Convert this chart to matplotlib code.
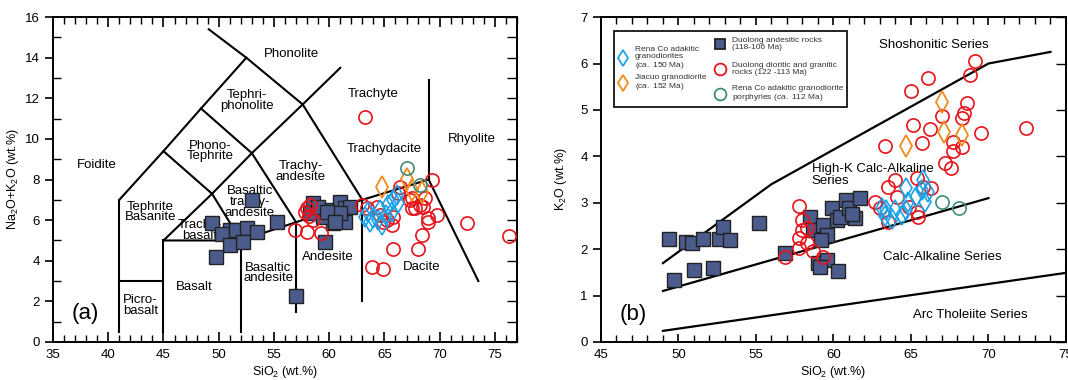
import matplotlib
matplotlib.use("Agg")
import matplotlib.pyplot as plt
from matplotlib.patches import Rectangle
from matplotlib.ticker import MultipleLocator

plt.rcParams["font.family"] = ["Liberation Sans", "DejaVu Sans"]
plt.rcParams["mathtext.fontset"] = "custom"
plt.rcParams["mathtext.rm"] = "Liberation Sans"
plt.rcParams["mathtext.it"] = "Liberation Sans:italic"

# ============================================================
# DATOS  (a) TAS: SiO2 vs Na2O+K2O
# ============================================================
sq_a_x = [53.0, 49.4, 51.0, 50.3, 51.6, 52.6, 53.5, 51.0, 52.2, 49.75, 55.3, 57.0,
          58.5, 58.3, 60.1, 61.0, 61.4, 61.9, 60.3, 61.4, 59.6, 59.4, 59.0, 61.0,
          59.8, 60.5]
sq_a_y = [7.0, 5.86, 5.5, 5.3, 5.5, 5.6, 5.4, 4.8, 4.9, 4.2, 5.9, 2.27,
          6.85, 6.35, 6.5, 6.9, 6.6, 6.65, 5.86, 5.9, 4.9, 6.16, 6.65, 6.35,
          6.4, 5.9]

red_a_x = [58.0, 58.3, 57.8, 58.5, 56.9, 58.0, 59.3, 58.2,
           63.2, 63.0, 64.3, 65.2, 65.7, 65.8, 63.9, 64.9, 68.0, 68.4, 68.9, 69.75,
           69.3, 72.5, 68.7, 68.2, 67.5, 67.5, 66.2, 65.8, 64.9, 64.6, 63.4, 68.5,
           68.9, 66.4, 67.3, 67.8, 76.3]
red_a_y = [6.6, 6.75, 6.4, 6.0, 5.5, 5.4, 5.35, 6.2,
           11.1, 6.75, 6.65, 6.0, 5.76, 4.6, 3.7, 3.6, 4.6, 5.27, 6.1, 6.25,
           8.0, 5.86, 7.1, 6.75, 6.6, 7.1, 7.34, 6.16, 5.9, 6.25, 6.6, 6.65,
           5.9, 7.65, 7.0, 6.6, 5.2]

bd_a_x = [63.2, 63.5, 64.0, 64.6, 64.4, 65.1, 65.3, 65.8, 66.2, 65.7, 64.8, 63.7, 66.1]
bd_a_y = [6.16, 6.4, 6.1, 6.5, 6.0, 6.25, 6.75, 7.0, 6.85, 6.4, 5.76, 5.9, 7.24]

od_a_x = [64.8, 67.0, 67.5, 68.4]
od_a_y = [7.64, 8.05, 7.5, 7.4]

gc_a_x = [67.0, 68.2]
gc_a_y = [8.55, 7.75]

# ============================================================
# DATOS  (b) SiO2 vs K2O
# ============================================================
sq_b_x = [49.4, 49.7, 50.5, 50.9, 51.0, 51.6, 52.2, 52.6, 52.9, 53.3, 55.2, 56.9,
          59.0, 59.6, 60.3, 59.1, 58.5, 58.7, 59.3, 59.6, 59.9, 60.2, 60.4, 60.8,
          61.0, 61.4, 61.7, 59.2, 61.2]
sq_b_y = [2.22, 1.34, 2.15, 2.13, 1.55, 2.22, 1.6, 2.22, 2.48, 2.2, 2.56, 1.92,
          1.7, 1.77, 1.53, 1.62, 2.7, 2.41, 2.52, 2.3, 2.88, 2.63, 2.7, 3.06,
          2.88, 2.67, 3.1, 2.2, 2.75]

red_b_x = [69.1, 68.8, 66.1, 65.0, 68.6, 68.4, 67.0, 68.3, 65.1, 66.2, 69.55, 72.4,
           63.3, 65.7, 67.7, 68.3, 67.7, 67.2, 67.6, 63.95, 63.5, 65.4, 65.75, 66.3,
           64.1, 62.65, 63.0, 63.5, 64.9, 65.4, 65.45,
           57.8, 58.0, 57.95, 58.3, 57.8, 58.3, 57.8, 58.65, 56.85, 59.3]
red_b_y = [6.05, 5.75, 5.69, 5.41, 5.16, 4.94, 4.87, 4.82, 4.67, 4.58, 4.51, 4.6,
           4.23, 4.28, 4.3, 4.2, 4.12, 3.85, 3.75, 3.49, 3.34, 3.53, 3.34, 3.32,
           3.12, 3.02, 2.88, 2.59, 2.91, 2.8, 2.7,
           2.93, 2.63, 2.41, 2.45, 2.24, 2.13, 2.02, 1.96, 1.84, 1.84]

bd_b_x = [63.4, 63.3, 63.95, 63.8, 64.4, 64.7, 64.8, 65.35, 65.7, 65.75, 66.1, 65.9, 64.7, 63.1]
bd_b_y = [2.84, 2.71, 2.84, 2.66, 2.73, 3.32, 3.02, 3.13, 3.27, 3.49, 3.23, 3.02, 2.84, 2.88]

od_b_x = [67.0, 64.65, 67.1, 68.3]
od_b_y = [5.18, 4.23, 4.53, 4.46]

gc_b_x = [67.0, 68.1]
gc_b_y = [3.02, 2.88]

# lineas de series (Peccerillo & Taylor)
sho_x, sho_y = [49, 56, 70, 74], [1.7, 3.4, 6.0, 6.25]
hk_x, hk_y = [49, 70], [1.1, 3.1]
th_x, th_y = [49, 75], [0.24, 1.49]

# ============================================================
# ESTILOS
# ============================================================
C_SQ = "#4a5b8c"
C_RED = "#e5141b"
C_BLUE = "#1aa3e8"
C_ORANGE = "#ef8a1c"
C_GREEN = "#3f8c78"

def draw_points(ax, sx, sy, rx, ry, bx, by, ox, oy, gx, gy):
    ax.plot(sx, sy, ls="none", marker="s", ms=10.5, mfc=C_SQ, mec="#222222", mew=1.0, zorder=4)
    ax.plot(rx, ry, ls="none", marker="o", ms=9.5, mfc="none", mec=C_RED, mew=1.2, zorder=5)
    ax.plot(bx, by, ls="none", marker="d", ms=10.5, mfc="none", mec=C_BLUE, mew=1.2, zorder=6)
    ax.plot(ox, oy, ls="none", marker="d", ms=11, mfc="none", mec=C_ORANGE, mew=1.3, zorder=6)
    ax.plot(gx, gy, ls="none", marker="o", ms=9.5, mfc="none", mec=C_GREEN, mew=1.2, zorder=6)

def style_axes(ax):
    for s in ax.spines.values():
        s.set_linewidth(1.4)
    ax.tick_params(axis="x", which="major", direction="in", length=7, width=1.2,
                   top=True, labelsize=9.5, pad=5)
    ax.tick_params(axis="x", which="minor", direction="in", length=5, width=1.0, top=True)
    ax.tick_params(axis="y", which="major", direction="out", length=6, width=1.2,
                   labelsize=9.5)
    ax.tick_params(axis="y", which="minor", direction="in", length=6, width=1.0)

fig = plt.figure(figsize=(10.68, 3.80), dpi=100)

# ── (a) TAS ──
ax1 = fig.add_axes([0.0496, 0.1, 0.4345, 0.855])
ax1.set_xlim(35, 77)
ax1.set_ylim(0, 16)
ax1.xaxis.set_major_locator(MultipleLocator(5))
ax1.xaxis.set_minor_locator(MultipleLocator(1))
ax1.yaxis.set_major_locator(MultipleLocator(2))
ax1.yaxis.set_minor_locator(MultipleLocator(1))
style_axes(ax1)
ax1r = ax1.secondary_yaxis("right")
ax1r.yaxis.set_major_locator(MultipleLocator(1))
ax1r.tick_params(direction="in", length=7, width=1.0, labelright=False)
ax1r.spines["right"].set_linewidth(1.4)

tas_lines = [
    ([41, 41], [0.5, 7]), ([41, 45, 48.4, 52.5], [7, 9.4, 11.5, 14]),
    ([49.1, 52.5, 57.6, 63], [15.4, 14, 11.7, 7]), ([57.6, 61], [11.7, 13.5]),
    ([45, 49.4, 53, 57.6], [9.4, 7.3, 9.3, 11.7]), ([48.4, 53], [11.5, 9.3]),
    ([53, 57], [9.3, 5.9]), ([45, 49.4], [5, 7.3]), ([49.4, 52], [7.3, 5]),
    ([41, 45], [3, 3]), ([45, 45], [0.5, 5]), ([45, 52, 57, 63, 69], [5, 5, 5.9, 7, 8]),
    ([52, 52], [0.5, 5]), ([57, 57], [1.5, 5.9]), ([63, 63], [2.0, 7]),
    ([69, 69], [8, 12.9]), ([69, 73.5], [8, 3.0]),
]
for lx, ly in tas_lines:
    ax1.plot(lx, ly, color="black", lw=1.5, zorder=2)

tas_labels = [
    (56.6, 14.2, "Phonolite"), (52.6, 11.9, "Tephri-\nphonolite"),
    (49.2, 9.4, "Phono-\nTephrite"), (39.0, 8.7, "Foidite"),
    (43.8, 6.4, "Tephrite\nBasanite"), (48.3, 5.5, "Trachy-\nbasalt"),
    (52.8, 6.9, "Basaltic\ntrachy-\nandesite"), (47.8, 2.7, "Basalt"),
    (54.5, 3.4, "Basaltic\nandesite"), (42.9, 1.8, "Picro-\nbasalt"),
    (64.0, 12.2, "Trachyte"), (57.4, 8.4, "Trachy-\nandesite"),
    (65.0, 9.5, "Trachydacite"), (72.9, 10.0, "Rhyolite"),
    (59.9, 4.2, "Andesite"), (68.4, 3.7, "Dacite"),
]
for tx, ty, t in tas_labels:
    ax1.text(tx, ty, t, ha="center", va="center", fontsize=9.5, linespacing=0.85, zorder=3)
ax1.text(37.9, 1.4, "(a)", ha="center", va="center", fontsize=16)

draw_points(ax1, sq_a_x, sq_a_y, red_a_x, red_a_y, bd_a_x, bd_a_y,
            od_a_x, od_a_y, gc_a_x, gc_a_y)
ax1.set_xlabel("SiO$_2$ (wt.%)", fontsize=9, labelpad=2)
ax1.set_ylabel("Na$_2$O+K$_2$O (wt.%)", fontsize=9, labelpad=3)

# ── (b) SiO2 vs K2O ──
ax2 = fig.add_axes([0.5627, 0.1, 0.4354, 0.855])
ax2.set_xlim(45, 75)
ax2.set_ylim(0, 7)
ax2.xaxis.set_major_locator(MultipleLocator(5))
ax2.xaxis.set_minor_locator(MultipleLocator(1))
ax2.yaxis.set_major_locator(MultipleLocator(1))
style_axes(ax2)
ax2.tick_params(axis="x", which="major", length=6)
ax2r = ax2.secondary_yaxis("right")
ax2r.yaxis.set_major_locator(MultipleLocator(1))
ax2r.tick_params(direction="in", length=7, width=1.0, labelright=False)
ax2r.spines["right"].set_linewidth(1.4)

for lx, ly in [(sho_x, sho_y), (hk_x, hk_y), (th_x, th_y)]:
    ax2.plot(lx, ly, color="black", lw=1.6, zorder=2)

ax2.text(66.5, 6.4, "Shoshonitic Series", ha="center", va="center", fontsize=9.5)
ax2.text(58.6, 3.6, "High-K Calc-Alkaline\nSeries", ha="left", va="center",
         fontsize=9.5, linespacing=0.95)
ax2.text(67.0, 1.83, "Calc-Alkaline Series", ha="center", va="center", fontsize=9.5)
ax2.text(68.8, 0.58, "Arc Tholeiite Series", ha="center", va="center", fontsize=9.5)
ax2.text(47.1, 0.6, "(b)", ha="center", va="center", fontsize=16)

draw_points(ax2, sq_b_x, sq_b_y, red_b_x, red_b_y, bd_b_x, bd_b_y,
            od_b_x, od_b_y, gc_b_x, gc_b_y)
ax2.set_xlabel("SiO$_2$ (wt.%)", fontsize=9, labelpad=2)
ax2.set_ylabel("K$_2$O (wt.%)", fontsize=9, labelpad=8)

# leyenda manual
T = ax2.transAxes
ax2.add_patch(Rectangle((0.028, 0.723), 0.501, 0.234, transform=T, fill=False,
                        ec="black", lw=1.2, zorder=7))
leg_items = [
    (0.047, 0.874, 0.073, "d", C_BLUE, "none", "Rena Co adakitic\ngranodiorites\n($\\it{ca.}$ 150 Ma)"),
    (0.047, 0.797, 0.073, "d", C_ORANGE, "none", "Jiacuo granodiorite\n($\\it{ca.}$ 152 Ma)"),
    (0.256, 0.917, 0.282, "s", "#222222", C_SQ, "Duolong andesitic rocks\n(118-106 Ma)"),
    (0.256, 0.840, 0.282, "o", C_RED, "none", "Duolong dioritic and granitic\nrocks (122 -113 Ma)"),
    (0.256, 0.763, 0.282, "o", C_GREEN, "none", "Rena Co adakitic granodiorite\nporphyries ($\\it{ca.}$ 112 Ma)"),
]
for mx, my, tx, mk, ec, fc, lab in leg_items:
    ax2.plot([mx], [my], transform=T, marker=mk, ms=8.5 if mk != "s" else 7.5,
             mec=ec, mfc=fc, mew=1.3, ls="none", zorder=8, clip_on=False)
    ax2.text(tx, my, lab, transform=T, ha="left", va="center", fontsize=6.0,
             color="#333333", linespacing=1.0, zorder=8)

plt.savefig("out.png", dpi=100)
